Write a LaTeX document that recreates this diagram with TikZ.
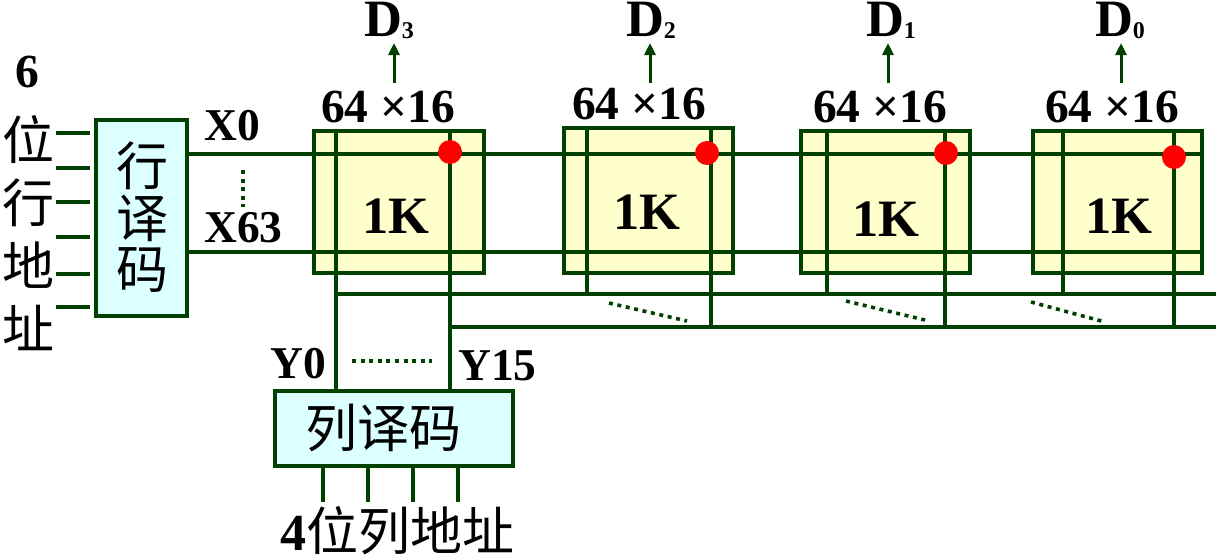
\documentclass[tikz,border=0pt]{standalone}
\usepackage{fontspec}
\usetikzlibrary{arrows.meta}
\setmainfont{Liberation Serif}
\newfontfamily\cjk{Noto Sans CJK SC}
\definecolor{wirecol}{HTML}{004000}
\definecolor{memcol}{HTML}{FFFFCC}
\definecolor{deccol}{HTML}{DCFFFF}
\newcommand{\sz}[1]{\fontsize{#1}{#1}\selectfont}
\tikzset{
	wire/.style={wirecol,line width=4pt},
	dots/.style={wirecol,line width=3.6pt,dash pattern=on 4pt off 4.6pt},
	mem/.style={draw=wirecol,line width=4.4pt,fill=memcol,inner sep=0pt,outer sep=0pt},
	dec/.style={draw=wirecol,line width=4.4pt,fill=deccol,inner sep=0pt,outer sep=0pt},
	lab/.style={font=\sz{47.5}\bfseries,anchor=base,inner sep=0pt},
	big/.style={font=\sz{52.5}\bfseries},
	tag/.style={font=\sz{45.5}\bfseries,anchor=base west},
	han/.style={font=\sz{52}\cjk,inner sep=0pt},
	hit/.style={circle,fill=red,minimum size=24pt,inner sep=0pt},
	outarrow/.style={wirecol,line width=3pt,-{Triangle[length=12pt,width=11pt]}}
}
\begin{document}
\begin{tikzpicture}[x=1pt,y=-1pt]
	\useasboundingbox (0,0) rectangle (1216,555);
	% decoders
	\node[dec,minimum width=91pt,minimum height=196pt] (rowdec) at (141.5,218) {};
	\node[dec,minimum width=238pt,minimum height=75pt] (coldec) at (394,428.5) {};
	% memory blocks
	\node[mem,minimum width=170pt,minimum height=142pt] (m3) at (399,202) {};
	\node[mem,minimum width=169pt,minimum height=145pt] (m2) at (648.5,200.5) {};
	\node[mem,minimum width=169pt,minimum height=142pt] (m1) at (885.5,202) {};
	\node[mem,minimum width=169pt,minimum height=142pt] (m0) at (1117.5,202) {};
	% ends of the lines
	\coordinate (xa) at (1202,154);
	\coordinate (xb) at (1202,252);
	\coordinate (ya) at (336,294);
	\coordinate (yb) at (450,327);
	\coordinate (yc) at (1216,294);
	\coordinate (yd) at (1216,327);
	\coordinate (b2l) at (587,294);
	\coordinate (b2r) at (711,327);
	\coordinate (b1l) at (827,294);
	\coordinate (b1r) at (945,327);
	\coordinate (b0l) at (1063,294);
	\coordinate (b0r) at (1174,327);
	% row and column lines
	\draw[wire] (rowdec.east |- xa)--(xa);
	\draw[wire] (rowdec.east |- xb)--(xb);
	\draw[wire] (ya |- m3.north)--(ya |- coldec.north);
	\draw[wire] (yb |- m3.north)--(yb |- coldec.north);
	\draw[wire] (ya)--(yc);
	\draw[wire] (yb)--(yd);
	\draw[wire] (b2l |- m2.north)--(b2l);
	\draw[wire] (b2r |- m2.north)--(b2r);
	\draw[wire] (b1l |- m1.north)--(b1l);
	\draw[wire] (b1r |- m1.north)--(b1r);
	\draw[wire] (b0l |- m0.north)--(b0l);
	\draw[wire] (b0r |- m0.north)--(b0r);
	% selected cells
	\node[hit] (h3) at (450,152) {};
	\node[hit] (h2) at (707,153) {};
	\node[hit] (h1) at (946,153) {};
	\node[hit] (h0) at (1174,157) {};
	% address stubs
	\draw[wire] (56,133)--(90,133);
	\draw[wire] (56,168)--(90,168);
	\draw[wire] (56,202)--(90,202);
	\draw[wire] (56,237)--(90,237);
	\draw[wire] (56,274)--(90,274);
	\draw[wire] (56,307)--(90,307);
	\draw[wire] (323,466)--(323,502);
	\draw[wire] (368,466)--(368,502);
	\draw[wire] (413,466)--(413,502);
	\draw[wire] (458,466)--(458,502);
	% dotted marks
	\draw[dots] (243,170)--(243,207);
	\draw[dots] (352,361)--(432,361);
	\draw[dots] (609,303)--(687,321);
	\draw[dots] (846,301)--(925,320);
	\draw[dots] (1031,302)--(1105,322);
	% outputs
	\draw[outarrow] (394,83)--(394,43);
	\draw[outarrow] (650,83)--(650,43);
	\draw[outarrow] (888,83)--(888,43);
	\draw[outarrow] (1121,83)--(1121,43);
	\node[lab,big] (d3) at (389,36) {D\raisebox{-2pt}{\sz{24}3}};
	\node[lab,big] (d2) at (651,36) {D\raisebox{-2pt}{\sz{24}2}};
	\node[lab,big] (d1) at (891,36) {D\raisebox{-2pt}{\sz{24}1}};
	\node[lab,big] (d0) at (1120,36) {D\raisebox{-2pt}{\sz{24}0}};
	% block labels
	\node[lab] (s3) at (388,122) {64 ×16};
	\node[lab] (s2) at (639,119) {64 ×16};
	\node[lab] (s1) at (880,122) {64 ×16};
	\node[lab] (s0) at (1112,122) {64 ×16};
	\node[lab,big] (k3) at (396,233) {1K};
	\node[lab,big] (k2) at (647,229) {1K};
	\node[lab,big] (k1) at (886,236) {1K};
	\node[lab,big] (k0) at (1119,233) {1K};
	% line labels
	\node[lab,tag] (x0) at (204,140) {X0};
	\node[lab,tag] (x63) at (204,242) {X63};
	\node[lab,tag] (y0) at (270,378) {Y0};
	\node[lab,tag] (y15) at (458,380) {Y15};
	% address text
	\node[lab] (six) at (27,87) {6};
	\node[han] (wa) at (28,140) {位};
	\node[han] (wb) at (28,203) {行};
	\node[han] (wc) at (28,265) {地};
	\node[han] (wd) at (28,328) {址};
	\node[han] (ra) at (142,166) {行};
	\node[han] (rb) at (142,218) {译};
	\node[han] (rc) at (142,270) {码};
	\node[han] (col) at (383,428) {列译码};
	\node[han] (addr) at (397,531) {{\bfseries\rmfamily 4}位列地址};
\end{tikzpicture}
\end{document}
